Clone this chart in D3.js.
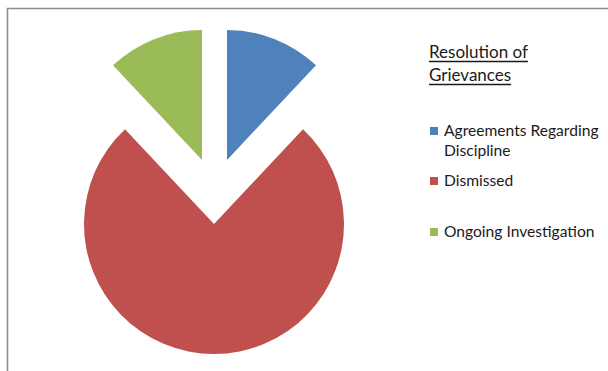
<!DOCTYPE html>
<html>
<head>
<meta charset="utf-8">
<script src="https://cdn.jsdelivr.net/npm/d3@7"></script>
<style>
    body { margin: 0; background: #fff; }
    svg { display: block; font-family: Lato, "Open Sans", sans-serif; }
</style>
</head>
<body>
<svg id="chart" width="608" height="371"></svg>
<script>
// data
var categories = ["Agreements Regarding Discipline", "Dismissed", "Ongoing Investigation"];
var values = [3, 19, 3];
var colors = ["#4F81BD", "#C0504D", "#9BBB59"];
var legendLines = [["Agreements Regarding", "Discipline"], ["Dismissed"], ["Ongoing Investigation"]];
var titleLines = ["Resolution of", "Grievances"];

var svg = d3.select("#chart");

// frame (only top and left edges visible)
svg.append("path")
    .attr("d", "M7.5,371 L7.5,8.5 L608,8.5")
    .attr("fill", "none")
    .attr("stroke", "#8c8c8c")
    .attr("stroke-width", 1.6);

var cx = 214, cy = 224, radius = 130;
// exploded slices offsets (blue, red, green)
var offsets = [[13, -64], [0, 0], [-12, -64]];

var pie = d3.pie().sort(null).value(function (d) { return d; })
    .startAngle(0).endAngle(2 * Math.PI);
var arc = d3.arc().innerRadius(0).outerRadius(radius);

var color = d3.scaleOrdinal().domain(categories).range(colors);

svg.append("g")
    .attr("transform", "translate(" + cx + "," + cy + ")")
    .selectAll("path")
    .data(pie(values))
    .enter()
    .append("path")
    .attr("d", arc)
    .attr("fill", function (d, i) { return color(categories[i]); })
    .attr("transform", function (d, i) {
        return "translate(" + offsets[i][0] + "," + offsets[i][1] + ")";
    });

// legend title
var title = svg.append("g").attr("transform", "translate(429,0)");
titleLines.forEach(function (t, i) {
    var txt = title.append("text")
        .attr("x", 0)
        .attr("y", 58 + i * 23)
        .attr("font-size", 17)
        .attr("fill", "#1a1a1a")
        .text(t);
    var w = txt.node().getComputedTextLength();
    title.append("line")
        .attr("x1", 0).attr("x2", w)
        .attr("y1", 61.5 + i * 23).attr("y2", 61.5 + i * 23)
        .attr("stroke", "#1a1a1a")
        .attr("stroke-width", 1.3);
});

// legend items
var itemY = [136, 186, 237];
var legend = svg.append("g");
categories.forEach(function (c, i) {
    legend.append("rect")
        .attr("x", 430)
        .attr("y", itemY[i] - 9)
        .attr("width", 8)
        .attr("height", 8)
        .attr("fill", color(c));
    legendLines[i].forEach(function (l, j) {
        legend.append("text")
            .attr("x", 444)
            .attr("y", itemY[i] + j * 20)
            .attr("font-size", 15.6)
            .attr("fill", "#1a1a1a")
            .text(l);
    });
});
</script>
</body>
</html>
